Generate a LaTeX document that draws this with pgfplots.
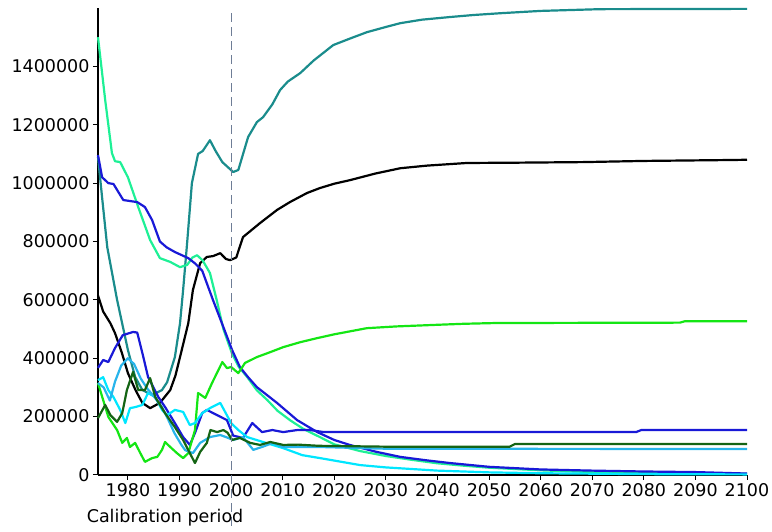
\documentclass[border=0pt]{standalone}
\usepackage{fontspec}
\setmainfont{DejaVu Sans}
\usepackage{pgfplots}
\pgfplotsset{compat=1.18}
\definecolor{cteal}{RGB}{26,140,140}
\definecolor{caqua}{RGB}{30,240,150}
\definecolor{cblue}{RGB}{25,25,215}
\definecolor{cgreen}{RGB}{20,230,20}
\definecolor{ccyan}{RGB}{0,230,255}
\definecolor{clblue}{RGB}{40,180,235}
\definecolor{cdgreen}{RGB}{20,100,20}
\definecolor{cdash}{RGB}{110,125,150}
\begin{document}
\begin{tikzpicture}
\begin{axis}[
  at={(0,0)}, anchor=south west,
  scale only axis, width=649pt, height=467pt,
  xmin=1974.2, xmax=2100, ymin=0, ymax=1600000,
  axis x line=bottom, axis y line=left,
  axis line style={-, line width=1.2pt, black},
  xtick={1980,1990,...,2100},
  ytick={0,200000,...,1400000},
  scaled y ticks=false,
  tick align=outside, major tick length=5pt,
  tick style={line width=1pt, black},
  /pgf/number format/assume math mode=true,
  xticklabel style={/pgf/number format/1000 sep={}, font=\fontsize{17.5}{20}\selectfont},
  yticklabel style={/pgf/number format/fixed, /pgf/number format/1000 sep={}, font=\fontsize{17.5}{20}\selectfont},
  clip=false,
  every axis plot/.append style={line width=2.2pt, no markers, line join=round},
]
\addplot[cteal] coordinates {
(1974.2,1090000)(1975,950000)(1976,780000)(1977.9,600000)(1979,510000)(1980,428000)
(1981.4,336000)(1982.8,291000)(1984.7,274000)(1986.6,291000)(1987.6,318000)(1989.1,404000)
(1990.1,520000)(1990.7,634000)(1991.5,800000)(1992.4,1000000)(1993.6,1100000)(1994.5,1110000)
(1995.9,1147000)(1997,1110000)(1998.3,1072000)(2000.4,1038000)(2001.4,1045000)(2003.3,1158000)
(2005,1209000)(2006.2,1226000)(2008,1270000)(2009.5,1319000)(2011,1348000)(2013.4,1377000)
(2016,1420000)(2019.8,1473000)(2023,1495000)(2026.3,1517000)(2030,1535000)(2032.8,1548000)
(2037,1560000)(2042.4,1569000)(2047,1576000)(2052.1,1582000)(2060,1590000)(2071.5,1596000)
(2100,1597000)};
\addplot[black] coordinates {
(1974.2,615000)(1975.2,560000)(1976.6,520000)(1977.5,486000)(1978.8,420000)(1980,349000)
(1981.5,290000)(1982.8,247000)(1984.3,229000)(1986.2,247000)(1988.2,291000)(1989.2,340000)
(1990.1,404000)(1991.7,520000)(1992.6,634000)(1994,726000)(1995.3,747000)(1996.5,750000)
(1997.9,760000)(1999,740000)(1999.8,736000)(2001,745000)(2002.3,815000)(2005.6,863000)
(2008.9,908000)(2011.4,935000)(2014.7,966000)(2017.2,983000)(2020,998000)(2023,1010000)
(2028,1033000)(2032.8,1051000)(2038,1060000)(2045.7,1069000)(2055,1070000)(2068.2,1072000)
(2080,1076000)(2096,1079000)(2100,1080000)};
\addplot[caqua] coordinates {
(1974.2,1500000)(1975.6,1284000)(1976.9,1103000)(1977.5,1075000)(1978.5,1072000)(1980,1020000)
(1982,918000)(1984.3,805000)(1986.2,743000)(1988.2,730000)(1990.1,712000)(1991.5,720000)
(1992.5,745000)(1993.4,753000)(1994.5,735000)(1995.9,692000)(1997.2,600000)(1998.5,500000)
(2000.2,415000)(2001.5,370000)(2003.1,336000)(2005,290000)(2007,257000)(2009,220000)
(2011.4,188000)(2014,158000)(2017.2,130000)(2020,105000)(2025,82000)(2030,65000)
(2035,52000)(2040,40000)(2045,32000)(2050,25000)(2060,16000)(2070,10000)(2080,7000)
(2090,5000)(2100,4000)};
\addplot[cblue] coordinates {
(1974.2,1096000)(1975,1020000)(1976.2,1000000)(1977.2,997000)(1979.1,942000)(1981.8,935000)
(1983.3,918000)(1984.7,873000)(1986.2,800000)(1987.5,780000)(1989.1,764000)(1991.7,743000)
(1993,725000)(1994.4,700000)(1996.5,599000)(1998.5,507000)(2000.2,428000)(2001.7,370000)
(2003.3,335000)(2005,301000)(2008.9,247000)(2012.8,188000)(2016.7,147000)(2020,120000)
(2023,103000)(2028,80000)(2032.8,62000)(2038,50000)(2042.4,41000)(2050,28000)(2060,19000)
(2070,15000)(2080,12000)(2090,10000)(2100,5000)};
\addplot[cblue] coordinates {
(1974.2,367000)(1975.2,394000)(1976.2,387000)(1977.5,435000)(1979,479000)(1981,490000)
(1981.8,488000)(1982.8,418000)(1983.9,336000)(1985.9,267000)(1987.2,233000)(1989.1,178000)
(1990.7,130000)(1992,103000)(1993,144000)(1994.4,212000)(1995.3,223000)(1997.3,205000)
(1999.2,188000)(2000.4,135000)(2002.3,127000)(2004.1,178000)(2006,147000)(2008,154000)
(2010.1,147000)(2012.8,154000)(2015.3,154000)(2018,147000)(2078.5,147000)(2079.5,154000)
(2100,154000)};
\addplot[cgreen] coordinates {
(1974.2,315000)(1975.2,257000)(1976.2,199000)(1977.9,154000)(1978.9,110000)(1979.8,127000)
(1980.4,96000)(1981.4,110000)(1982.4,75000)(1983.3,45000)(1984.7,58000)(1985.7,62000)
(1986.6,86000)(1987.2,113000)(1988.2,96000)(1989.5,75000)(1990.7,58000)(1991.7,75000)
(1993,154000)(1993.6,281000)(1995,264000)(1996.3,315000)(1998.3,387000)(1999.2,366000)
(2000,370000)(2001.4,349000)(2002.7,384000)(2005,404000)(2007.6,421000)(2010.1,438000)
(2013.4,455000)(2016.7,469000)(2020,482000)(2026.3,503000)(2032,509000)(2039.1,514000)
(2045,518000)(2052.1,521000)(2060,521000)(2087,522000)(2088,527000)(2100,527000)};
\addplot[ccyan] coordinates {
(1974.2,325000)(1975.2,335000)(1976.2,291000)(1977.2,267000)(1978.5,223000)(1979.5,178000)
(1980.4,229000)(1981.5,233000)(1982.8,240000)(1983.9,281000)(1985.3,267000)(1986.6,223000)
(1987.6,205000)(1989.1,223000)(1990.7,216000)(1992,171000)(1993,178000)(1994.4,212000)
(1996,230000)(1997.9,247000)(2000,178000)(2001.4,154000)(2003.1,130000)(2006.2,113000)
(2010.1,92000)(2013.8,68000)(2017.2,58000)(2025,34000)(2030,26000)(2040,15000)(2050,9000)
(2060,6000)(2080,3000)(2100,2000)};
\addplot[clblue] coordinates {
(1974.2,315000)(1975.3,300000)(1976.5,255000)(1977.5,320000)(1978.7,375000)(1980,400000)
(1981.2,380000)(1982.5,330000)(1983.8,295000)(1985,270000)(1986.6,233000)(1987.8,190000)
(1989,144000)(1990.3,105000)(1991.1,85000)(1992.6,75000)(1994,110000)(1995.9,130000)
(1997.9,137000)(1999,130000)(2000.4,120000)(2002.3,130000)(2004.3,86000)(2006,96000)
(2008.1,110000)(2010,96000)(2017,96000)(2030,90000)(2100,89000)};
\addplot[cdgreen] coordinates {
(1974.2,195000)(1975.6,240000)(1976.6,205000)(1977.9,182000)(1978.9,212000)(1979.8,291000)
(1981,353000)(1982,291000)(1983.3,291000)(1984.3,332000)(1985.3,267000)(1987.2,212000)
(1989.1,164000)(1990.7,120000)(1992,75000)(1993,41000)(1994,79000)(1995.3,110000)
(1996,154000)(1997.3,147000)(1998.5,154000)(1999.3,145000)(2000.2,120000)(2001.7,127000)
(2003.7,110000)(2005.6,103000)(2007.6,113000)(2010.1,103000)(2013,104000)(2017,100000)
(2030,97000)(2054,97000)(2055,106000)(2100,106000)};
\draw[cdash, line width=1pt, dash pattern=on 9pt off 5pt] (axis cs:2000,1582000) -- (axis cs:2000,-188000);
\node[font=\fontsize{17.5}{20}\selectfont, inner sep=0pt] at (axis cs:1987.2,-147000) {Calibration period};
\end{axis}
\pgfresetboundingbox
\path[use as bounding box] (-98pt,-57pt) rectangle (674pt,475pt);
\end{tikzpicture}
\end{document}
